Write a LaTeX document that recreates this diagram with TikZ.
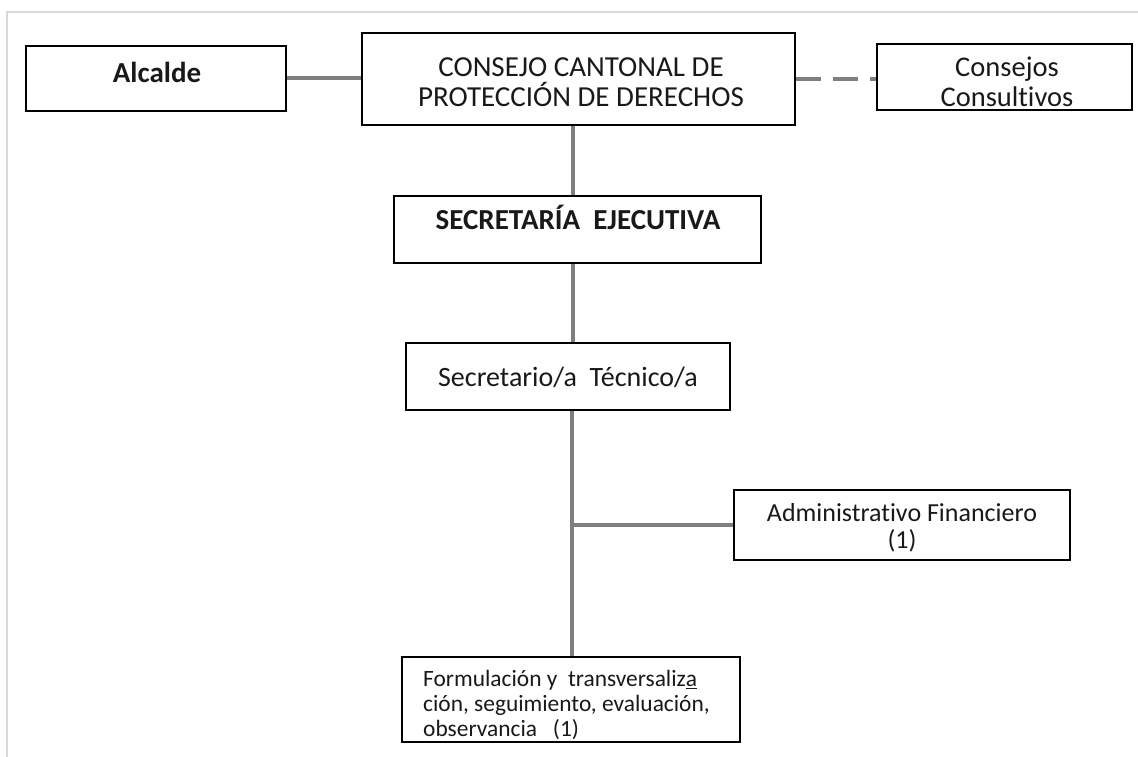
\documentclass[tikz,border=0pt]{standalone}
\usepackage{fontspec}
\setmainfont{Carlito}[Ligatures=NoCommon]
\definecolor{conngray}{HTML}{7F7F7F}
\definecolor{framegray}{HTML}{D9D9D9}
\begin{document}
\begin{tikzpicture}[x=1pt,y=-1pt,
  box/.style={draw=black,line width=2.8pt,inner sep=0pt},
  conn/.style={draw=conngray,line width=4pt},
  frameline/.style={draw=framegray,line width=2pt},
  txt/.style={inner sep=0pt,align=center,text=black!90}]
\useasboundingbox (0,0) rectangle (1138,757);
\draw[frameline] (7,757) -- (7,12) -- (1138,12);
% boxes
\node[box,minimum width=260pt,minimum height=65pt] (alc) at (156,78.5) {};
\node[box,minimum width=433pt,minimum height=92pt] (cons) at (578.5,79) {};
\node[box,minimum width=255pt,minimum height=66pt] (ccons) at (1004.5,77) {};
\node[box,minimum width=367pt,minimum height=67pt] (sec) at (577.5,229.5) {};
\node[box,minimum width=324pt,minimum height=67pt] (tec) at (568,376.5) {};
\node[box,minimum width=336pt,minimum height=70pt] (adm) at (902,525) {};
\node[box,minimum width=338pt,minimum height=85pt] (form) at (571,699.5) {};
% texts
\node[txt,font=\fontsize{29}{30}\selectfont\bfseries] (talc) at (157,72) {Alcalde};
\node[txt,font=\fontsize{29}{30}\selectfont] (tcons) at (581,82) {CONSEJO CANTONAL DE\\PROTECCIÓN DE DERECHOS};
\node[txt,font=\fontsize{28.5}{30}\selectfont] (tccons) at (1007,82) {Consejos\\Consultivos};
\node[txt,font=\fontsize{29}{30}\selectfont\bfseries] (tsec) at (578,217) {SECRETARÍA\ \ EJECUTIVA};
\node[txt,font=\fontsize{28}{30}\selectfont] (ttec) at (568,377) {Secretario/a\ \ Técnico/a};
\node[txt,font=\fontsize{26}{27}\selectfont] (tadm) at (902,528) {Administrativo Financiero\\(1)};
\node[txt,font=\fontsize{23.4}{25}\selectfont,align=left,anchor=west] (tform) at (423,705) {Formulación y\ \ transversaliz\underline{a}\\ción, seguimiento, evaluación,\\observancia\ \ \ (1)};
% connectors
\coordinate (trunk) at (573,0);
\coordinate (trunk2) at (572,0);
\draw[conn] (alc.east) -- (cons.west |- alc.east);
\draw[conn,dash pattern=on 25pt off 12pt] (cons.east) -- (ccons.west |- cons.east);
\draw[conn] (cons.south -| trunk) -- (sec.north -| trunk);
\draw[conn] (sec.south -| trunk) -- (tec.north -| trunk);
\draw[conn] (tec.south -| trunk2) -- (form.north -| trunk2);
\draw[conn] (trunk2 |- adm.west) -- (adm.west);
\end{tikzpicture}
\end{document}
